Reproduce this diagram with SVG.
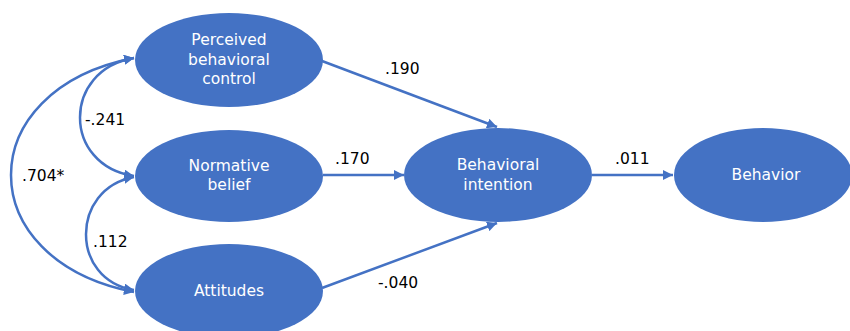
<svg xmlns="http://www.w3.org/2000/svg" width="850" height="331" viewBox="0 0 850 331">
<style>
.node ellipse{fill:#4472C4;}
.node text{fill:#ffffff;font-family:"DejaVu Sans","Liberation Sans",sans-serif;font-size:15.5px;text-anchor:middle;}
.edge{fill:none;stroke:#4472C4;stroke-width:2.5;}
.lbl{fill:#000000;font-family:"DejaVu Sans","Liberation Sans",sans-serif;font-size:15.5px;}
</style>
<defs>
<marker id="ah" viewBox="0 0 10 10" refX="10" refY="5" markerWidth="4" markerHeight="4" markerUnits="strokeWidth" orient="auto-start-reverse">
<path d="M0,0 L10,5 L0,10 z" fill="#4472C4"/>
</marker>
</defs>
<rect width="850" height="331" fill="#ffffff"/>
<g id="connectors">
<path class="edge" d="M322,61 L497,127" marker-end="url(#ah)"/>
<path class="edge" d="M323,175 L404,175" marker-end="url(#ah)"/>
<path class="edge" d="M322,288 L497,223" marker-end="url(#ah)"/>
<path class="edge" d="M592,175 L673,175" marker-end="url(#ah)"/>
<path class="edge" d="M134,58 C62,70 62,165 134,176" marker-start="url(#ah)" marker-end="url(#ah)"/>
<path class="edge" d="M134,177 C70,189 70,280 134,290" marker-start="url(#ah)" marker-end="url(#ah)"/>
<path class="edge" d="M134,58 C-30,90 -30,260 134,292" marker-start="url(#ah)" marker-end="url(#ah)"/>
<text class="lbl" x="385" y="74">.190</text>
<text class="lbl" x="335" y="164">.170</text>
<text class="lbl" x="378" y="288">-.040</text>
<text class="lbl" x="615" y="164">.011</text>
<text class="lbl" x="85" y="125">-.241</text>
<text class="lbl" x="22" y="181">.704*</text>
<text class="lbl" x="93" y="247">.112</text>
</g>
<g id="pbc" class="node">
<ellipse cx="229" cy="60" rx="94" ry="47"/>
<text x="229" y="45">Perceived</text>
<text x="229" y="65">behavioral</text>
<text x="229" y="84">control</text>
</g>
<g id="nb" class="node">
<ellipse cx="229" cy="176" rx="94" ry="46"/>
<text x="229" y="171">Normative</text>
<text x="229" y="190">belief</text>
</g>
<g id="att" class="node">
<ellipse cx="229" cy="291" rx="94" ry="47"/>
<text x="229" y="296">Attitudes</text>
</g>
<g id="bi" class="node">
<ellipse cx="498" cy="175" rx="94" ry="47"/>
<text x="498" y="170">Behavioral</text>
<text x="498" y="190">intention</text>
</g>
<g id="beh" class="node">
<ellipse cx="763" cy="175" rx="89" ry="47"/>
<text x="766" y="180">Behavior</text>
</g>
</svg>
